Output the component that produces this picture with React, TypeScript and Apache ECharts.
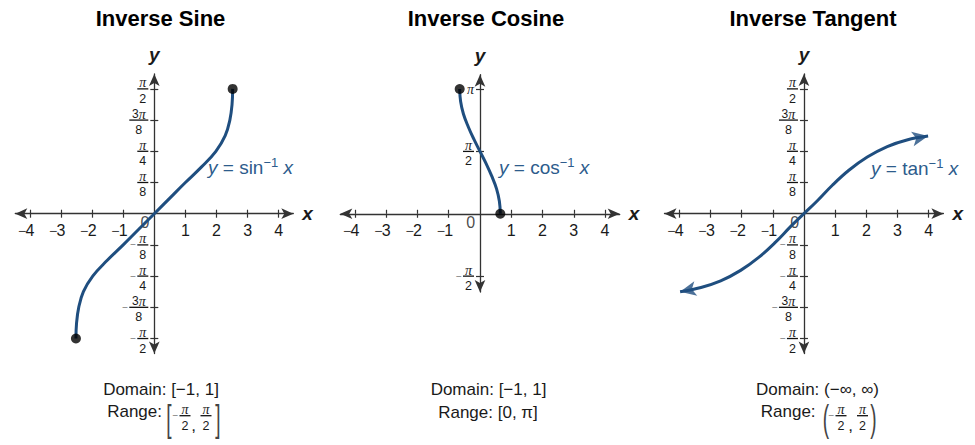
import React, { useEffect, useRef } from 'react';
import * as echarts from 'echarts';

// ---------- data ----------
const PANEL_TITLES = ['Inverse Sine', 'Inverse Cosine', 'Inverse Tangent'];
const FUNC_NAMES = ['sin', 'cos', 'tan'];
const X_TICKS = [-4, -3, -2, -1, 1, 2, 3, 4];
// y values are expressed in multiples of π
const Y_TICKS_SIN = [-0.5, -0.375, -0.25, -0.125, 0.125, 0.25, 0.375, 0.5];
const Y_TICKS_COS = [-0.5, 0.5, 1];
const Y_TICKS_TAN = [-0.5, -0.375, -0.25, -0.125, 0.125, 0.25, 0.375, 0.5];
// tick labels, split over two axis layers so that neighbouring labels never collide
const Y_LABELS_A = [[-0.5, -0.25, 0.25, 0.5], [-0.5, 0.5, 1], [-0.5, -0.25, 0.25, 0.5]];
const Y_LABELS_B = [[-0.375, -0.125, 0.125, 0.375], [], [-0.375, -0.125, 0.125, 0.375]];

const SIN_X = [-2.52, -2.5, -2.43, -2.28, -1.98, -1.52, -1.0, -0.5, 0, 0.5, 1.0, 1.52, 1.98, 2.28, 2.43, 2.5, 2.52];
const SIN_Y = [-0.5, -0.4375, -0.375, -0.3125, -0.25, -0.1875, -0.125, -0.0625, 0, 0.0625, 0.125, 0.1875, 0.25, 0.3125, 0.375, 0.4375, 0.5];

const COS_X = [-0.65, -0.62, -0.53, -0.38, -0.2, 0, 0.2, 0.38, 0.53, 0.62, 0.65];
const COS_Y = [1, 0.9, 0.8, 0.7, 0.6, 0.5, 0.4, 0.3, 0.2, 0.1, 0];

const TAN_X = [-3.97, -3.3, -2.67, -2.03, -1.44, -0.91, -0.43, 0, 0.43, 0.91, 1.44, 2.03, 2.67, 3.3, 3.98];
const TAN_Y = [-0.3125, -0.2955, -0.269, -0.227, -0.174, -0.114, -0.052, 0, 0.052, 0.114, 0.174, 0.227, 0.269, 0.2955, 0.311];

const DOMAIN_TEXTS = ['Domain: [−1, 1]', 'Domain: [−1, 1]', 'Domain: (−∞, ∞)'];
const RANGE_COS_TEXT = 'Range: [0, π]';
const FRACTIONS: Record<number, [number, number]> = { 1: [1, 8], 2: [1, 4], 3: [3, 8], 4: [1, 2] };

// ---------- layout / style ----------
const FONT = 'Liberation Sans';
const INK = '#1a1a1a';
const AXIS = '#333333';
const CURVE = '#1f4e7f';
const LABEL_BLUE = '#2d5c8c';

const PANELS = [
  { left: 15.3, top: 73.9, width: 278, height: 279.6, xMin: -4.47, xMax: 4.47, yMin: -0.56, yMax: 0.56, ySplit: 2 },
  { left: 340.3, top: 74.7, width: 279.4, height: 217.4, xMin: -4.47, xMax: 4.47, yMin: -0.628, yMax: 1.115, ySplit: 3 },
  { left: 664.5, top: 73.9, width: 278.9, height: 279.6, xMin: -4.47, xMax: 4.47, yMin: -0.56, yMax: 0.56, ySplit: 2 },
];

const fracRich: any = {
  nd: { fontFamily: FONT, fontSize: 12, color: INK, fill: INK, align: 'center', lineHeight: 11, height: 9, verticalAlign: 'bottom' },
  np: { fontFamily: 'Liberation Serif', fontStyle: 'italic', fontSize: 14, color: INK, fill: INK, align: 'center', lineHeight: 11, height: 9, verticalAlign: 'bottom' },
  dd: { fontFamily: FONT, fontSize: 12.5, color: INK, fill: INK, align: 'center', lineHeight: 11, height: 17, verticalAlign: 'top' },
  sp: { width: 7, align: 'left', lineHeight: 1, fontSize: 1 },
  neg: { width: 7, align: 'left', lineHeight: 3, fontSize: 10, fontFamily: FONT, color: '#777', fill: '#777' },
  bar: { width: 11, height: 1.3, lineHeight: 3, fontSize: 1, backgroundColor: '#111', align: 'center' },
  barW: { width: 19, height: 1.3, lineHeight: 3, fontSize: 1, backgroundColor: '#111', align: 'center' },
  pi: { fontFamily: 'Liberation Serif', fontStyle: 'italic', fontSize: 14, color: INK, fill: INK, align: 'center', lineHeight: 16 },
};

function fracText(v: number): string {
  const k = Math.round(Math.abs(v) * 8);
  if (k === 8) return '{pi|π}';
  const neg = v < 0;
  const [n, d] = FRACTIONS[k];
  const pre = neg ? '{sp|\u00a0}' : '';
  const num = (n === 1 ? '' : `{nd|${n}}`) + '{np|π}';
  const bar = n === 1 ? 'bar' : 'barW';
  return `${pre}${num}\n${neg ? '{neg|−}' : ''}{${bar}|\u00a0}\n${pre}{dd|${d}}`;
}

const xRich: any = {
  m: { fontFamily: FONT, fontSize: 14, color: '#444', width: 7, align: 'center', lineHeight: 16 },
  d: { fontFamily: FONT, fontSize: 16, color: INK, align: 'center', lineHeight: 16 },
  p: { fontSize: 1, width: 7, align: 'center', lineHeight: 16 },
};
const xFmt = (v: number) => (v < 0 ? `{m|−}{d|${-v}}{p|\u00a0}` : `{d|${v}}`);

const Y_TICK_SETS = [Y_TICKS_SIN, Y_TICKS_COS, Y_TICKS_TAN];

function zip(xs: number[], ys: number[]) {
  return xs.map((x, i) => [x, ys[i]]);
}

function buildOption() {
  const grid: any[] = [];
  const xAxis: any[] = [];
  const yAxis: any[] = [];
  const series: any[] = [];
  const tickStyle = { color: AXIS, width: 1.2 };

  PANELS.forEach((p, i) => {
    grid.push({ left: p.left, top: p.top, width: p.width, height: p.height, containLabel: false, outerBoundsMode: 'none' });
    const yTicks = Y_TICK_SETS[i];
    const labelsB = Y_LABELS_B[i];
    const zeroFromBottom = (p.height * (0 - p.yMin)) / (p.yMax - p.yMin);
    const zeroFromLeft = (p.width * (0 - p.xMin)) / (p.xMax - p.xMin);
    xAxis.push({
      type: 'value', gridIndex: i, min: p.xMin, max: p.xMax, position: 'bottom', offset: -zeroFromBottom,
      axisLine: { show: true, onZero: false, symbol: ['arrow', 'arrow'], symbolSize: [8, 12], lineStyle: { color: AXIS, width: 1.3 } },
      axisTick: { show: true, length: 4, customValues: X_TICKS, lineStyle: tickStyle },
      axisLabel: { show: true, customValues: X_TICKS, margin: 9, formatter: xFmt, rich: xRich },
      splitLine: { show: false },
      name: 'x', nameLocation: 'end', nameGap: 9,
      nameTextStyle: { fontFamily: FONT, fontSize: 19, fontWeight: 'bold', fontStyle: 'italic', color: INK },
    });
    xAxis.push({
      type: 'value', gridIndex: i, min: p.xMin, max: p.xMax, position: 'top', offset: -(p.height - zeroFromBottom),
      axisLine: { show: false, onZero: false },
      axisTick: { show: true, length: 4, customValues: X_TICKS, lineStyle: tickStyle },
      axisLabel: { show: false },
      splitLine: { show: false },
    });
    yAxis.push({
      type: 'value', gridIndex: i, min: p.yMin, max: p.yMax, splitNumber: p.ySplit, position: 'left', offset: -zeroFromLeft,
      axisLine: { show: true, onZero: false, symbol: ['arrow', 'arrow'], symbolSize: [8, 12], lineStyle: { color: AXIS, width: 1.3 } },
      axisTick: { show: true, length: 4, customValues: yTicks, lineStyle: tickStyle },
      axisLabel: { show: true, customValues: Y_LABELS_A[i], margin: 6, formatter: fracText, rich: fracRich },
      splitLine: { show: false },
      name: 'y', nameLocation: 'end', nameGap: 10,
      nameTextStyle: { fontFamily: FONT, fontSize: 19, fontWeight: 'bold', fontStyle: 'italic', color: INK },
    });
    yAxis.push({
      type: 'value', gridIndex: i, min: p.yMin, max: p.yMax, splitNumber: p.ySplit, position: 'right', offset: -(p.width - zeroFromLeft),
      axisLine: { show: false, onZero: false },
      axisTick: { show: true, length: 4, customValues: yTicks, lineStyle: tickStyle },
      axisLabel: labelsB.length
        ? { show: true, inside: true, customValues: labelsB, margin: 6, formatter: fracText, rich: fracRich }
        : { show: false },
      splitLine: { show: false },
    });
    // "0" label at the origin
    series.push({
      type: 'scatter', xAxisIndex: 2 * i, yAxisIndex: 2 * i, data: [[0, 0]], symbolSize: 1, silent: true,
      itemStyle: { color: 'rgba(0,0,0,0)' },
      label: { show: true, position: 'inside', offset: [-9.3, 9], formatter: '0', fontFamily: FONT, fontSize: 16, color: INK },
    });
  });

  const curves = [zip(SIN_X, SIN_Y), zip(COS_X, COS_Y), zip(TAN_X, TAN_Y)];
  curves.forEach((data, i) => {
    series.push({
      type: 'line', xAxisIndex: 2 * i, yAxisIndex: 2 * i, data, smooth: 0.4, symbol: 'none', silent: true,
      clip: false, lineStyle: { color: CURVE, width: 3 }, z: 3,
    });
  });

  // endpoints (closed dots) for sine and cosine
  [zip(SIN_X, SIN_Y), zip(COS_X, COS_Y)].forEach((data, i) => {
    series.push({
      type: 'scatter', xAxisIndex: 2 * i, yAxisIndex: 2 * i, data: [data[0], data[data.length - 1]],
      symbol: 'circle', symbolSize: 10, itemStyle: { color: '#000' }, silent: true, z: 5, clip: false,
    });
  });

  // arrowheads for tangent, oriented along the curve
  const p3 = PANELS[2];
  const pxX = p3.width / (p3.xMax - p3.xMin);
  const pxY = p3.height / (p3.yMax - p3.yMin);
  const ang = (a: number[], b: number[]) => (Math.atan2((b[1] - a[1]) * pxY, (b[0] - a[0]) * pxX) * 180) / Math.PI;
  const tan = curves[2];
  const n = tan.length;
  series.push({
    type: 'scatter', xAxisIndex: 4, yAxisIndex: 4, silent: true, z: 5, clip: false,
    symbol: 'arrow', symbolSize: [11, 16], itemStyle: { color: CURVE },
    data: [
      { value: tan[0], symbolRotate: ang(tan[1], tan[0]) - 90 },
      { value: tan[n - 1], symbolRotate: ang(tan[n - 2], tan[n - 1]) - 90 },
    ],
  });

  // ----- graphic texts -----
  const graphic: any[] = [];
  const titleX = [160.5, 486, 813];
  PANEL_TITLES.forEach((t, i) => {
    graphic.push({
      type: 'text', x: titleX[i], y: 18.5, silent: true,
      style: { text: t, fontFamily: FONT, fontSize: 22, fontWeight: 'bold', fill: '#000', align: 'center', verticalAlign: 'middle' },
    });
  });

  const curveLabelPos = [[208, 167], [499, 167], [871, 168]];
  FUNC_NAMES.forEach((f, i) => {
    graphic.push({
      type: 'text', x: curveLabelPos[i][0], y: curveLabelPos[i][1], silent: true,
      style: {
        text: `{i|y} = ${f}{s|−1} {i|x}`, fontFamily: FONT, fontSize: 19, fill: LABEL_BLUE, lineHeight: 22,
        align: 'left', verticalAlign: 'middle',
        rich: {
          i: { fontFamily: FONT, fontStyle: 'italic', fontSize: 19, fill: LABEL_BLUE, lineHeight: 22 },
          s: { fontFamily: FONT, fontSize: 13, fill: LABEL_BLUE, lineHeight: 12, verticalAlign: 'top' },
        },
      },
    });
  });

  const domainX = [161, 488.5, 817.5];
  DOMAIN_TEXTS.forEach((t, i) => {
    graphic.push({
      type: 'text', x: domainX[i], y: 389, silent: true,
      style: { text: t, fontFamily: FONT, fontSize: 17, fill: INK, align: 'center', verticalAlign: 'middle' },
    });
  });

  const plain = (text: string, x: number, y: number, align: string, extra: any = {}) => ({
    type: 'text', x, y, silent: true,
    style: { text, fontFamily: FONT, fontSize: 17, fill: INK, align, verticalAlign: 'middle', ...extra },
  });
  const tall = (text: string, x: number, y: number) => ({
    type: 'text', x, y, scaleY: 1.9, silent: true,
    style: { text, fontFamily: FONT, fontSize: 19, fill: '#444', align: 'center', verticalAlign: 'middle' },
  });
  const frac = (v: number, barCenter: number, y: number) => ({
    type: 'text', x: v < 0 ? barCenter - 12.5 : barCenter, y, silent: true,
    style: { text: fracText(v), rich: fracRich, fontFamily: FONT, fontSize: 12, fill: INK, align: v < 0 ? 'left' : 'center', verticalAlign: 'middle' },
  });

  // Range – sine
  graphic.push(plain('Range:', 162, 411, 'right'));
  graphic.push(tall('[', 169, 418));
  graphic.push(frac(-0.5, 185, 415.7));
  graphic.push(plain(',', 193.5, 425, 'center'));
  graphic.push(frac(0.5, 206, 415.7));
  graphic.push(tall(']', 218, 418));
  // Range – cosine
  graphic.push(plain(RANGE_COS_TEXT, 488, 412.5, 'center'));
  // Range – tangent
  graphic.push(plain('Range:', 815.6, 411, 'right'));
  graphic.push(tall('(', 826, 418));
  graphic.push(frac(-0.5, 841, 415.7));
  graphic.push(plain(',', 850.5, 425, 'center'));
  graphic.push(frac(0.5, 862.5, 415.7));
  graphic.push(tall(')', 873.5, 418));

  return {
    animation: false,
    backgroundColor: '#ffffff',
    grid,
    xAxis,
    yAxis,
    series,
    graphic,
  };
}

export default function App() {
  const ref = useRef<HTMLDivElement>(null);
  useEffect(() => {
    if (!ref.current) return;
    const chart = echarts.init(ref.current, null, { renderer: 'svg' });
    chart.setOption(buildOption() as any);
    return () => chart.dispose();
  }, []);
  return <div ref={ref} style={{ position: 'fixed', left: 0, top: 0, width: 975, height: 445 }} />;
}
